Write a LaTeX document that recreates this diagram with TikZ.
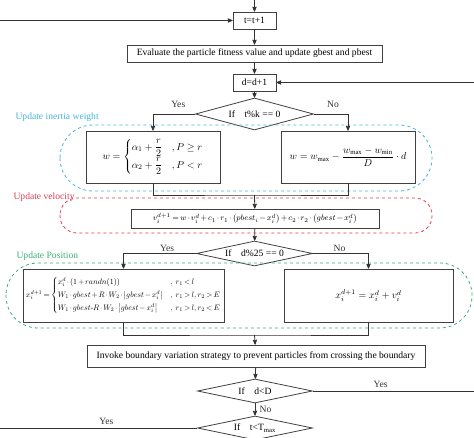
\documentclass[tikz,border=0pt]{standalone}
\usepackage{amsmath}
\usepackage{amssymb}
\usepackage{graphicx}
\usepackage{fontspec}
\setmainfont{Liberation Serif}
\usetikzlibrary{shapes.geometric, arrows}
\definecolor{inertiacol}{RGB}{70,180,220}
\definecolor{velcol}{RGB}{225,60,80}
\definecolor{poscol}{RGB}{60,175,120}
\tikzset{
>=stealth', % bold arrow heads
every node/.style={font=\fontsize{9.6}{11}\selectfont}, % text size of the flowchart
process/.style={draw, thick, draw=black!75, inner sep=1pt}, % rectangular boxes
decision/.style={diamond, draw, thick, draw=black!75, inner sep=0pt}, % if boxes
region/.style={dashed, thick, rounded corners=#1}, % dashed groups
flow/.style={->, thick, black!80}, % connectors
}

\begin{document}
\begin{tikzpicture}[x=1pt, y=-1pt]
        \useasboundingbox (0,0) rectangle (474,438);

        % main column
        \node[process, minimum width=43pt, minimum height=17pt] (tt) at (254.5,20.5) {t=t+1};
        \node[process, minimum width=255pt, minimum height=17pt] (eval) at (254.5,53.5) {Evaluate the particle fitness value and update gbest and pbest};
        \node[process, minimum width=43pt, minimum height=17pt] (dd) at (254.5,82.5) {d=d+1};
        \node[decision, aspect=3.7, minimum width=118pt, minimum height=32pt] (ifk) at (254.5,114) {If\quad t\%k == 0};

        % inertia weight
        \draw[region=33pt, inertiacol] (60,125) rectangle (432,191);
        \node[inertiacol, anchor=west] (lbinertia) at (12,117) {Update inertia weight};
        \node[process, minimum width=134pt, minimum height=52pt] (wl) at (153,157) {$w=\begin{cases}\alpha_1+\dfrac{r}{2} & ,P\ge r\\[2pt] \alpha_2+\dfrac{r}{2} & ,P<r\end{cases}$};
        \node[process, minimum width=134pt, minimum height=52pt] (wr) at (348,157) {$w=w_{\max}-\dfrac{w_{\max}-w_{\min}}{D}\cdot d$};
        \coordinate (mw) at (254.5,195);

        % velocity
        \draw[region=17pt, velcol] (60,198) rectangle (432,233);
        \node[velcol, anchor=west] (lbvel) at (10,197) {Update velocity};
        \node[process, minimum width=248pt, minimum height=19pt] (vel) at (255,218.5) {\fontsize{8}{9}\selectfont\medmuskip=2mu\thickmuskip=3mu$v_i^{d+1}=w\cdot v_i^d+c_1\cdot r_1\cdot\left(pbest_i-x_i^d\right)+c_2\cdot r_2\cdot\left(gbest-x_i^d\right)$};
        \node[decision, aspect=4.6, minimum width=116pt, minimum height=25pt] (ifd) at (254.5,253.5) {If\quad d\%25 == 0};

        % position
        \draw[region=32pt, poscol] (6,263) rectangle (472,328);
        \node[poscol, anchor=west] (lbpos) at (13,256) {Update Position};
        \node[process, minimum width=201pt, minimum height=53pt] (pl) at (123.5,295.5) {\resizebox{195pt}{!}{\medmuskip=2mu\thickmuskip=3mu$x_i^{d+1}=\begin{cases} x_i^d\cdot(1+randn(1)) & ,\ r_1<l\\[3pt] W_1\cdot gbest+R\cdot W_2\cdot\left|gbest-x_i^d\right| & ,\ r_1>l,r_2>E\\[3pt] W_1\cdot gbest\text{-}R\cdot W_2\cdot\left|gbest-x_i^d\right| & ,\ r_1>l,r_2<E\end{cases}$}};
        \node[process, minimum width=169pt, minimum height=53pt] (pr) at (368.5,295.5) {$x_i^{d+1}=x_i^d+v_i^d$};
        \coordinate (mp) at (254.5,335);

        % boundary and loops
        \node[process, minimum width=338pt, minimum height=22pt] (bound) at (256,356) {Invoke boundary variation strategy to prevent particles from crossing the boundary};
        \node[decision, aspect=4.8, minimum width=115pt, minimum height=24pt] (ifdd) at (255,391) {If\quad d<D};
        \node[decision, aspect=4.8, minimum width=115pt, minimum height=24pt] (ift) at (255,428) {If\quad t<T$_{\max}$};
        \coordinate (intop) at (254.5,0);
        \coordinate (inleft) at (0,20.5);
        \coordinate (inright) at (474,82.5);
        \coordinate (outright) at (474,391);
        \coordinate (outleft) at (0,428);

        \draw[flow] (intop) -- (tt);
        \draw[flow] (inleft) -- (tt);
        \draw[flow] (tt) -- (eval);
        \draw[flow] (eval) -- (dd);
        \draw[flow] (inright) -- (dd);
        \draw[flow] (dd) -- (ifk);
        \draw[flow] (ifk.west) -| node[pos=0.2, above=3pt]{Yes} (wl.north);
        \draw[flow] (ifk.east) -| node[pos=0.28, above=3pt]{No} (wr.north);
        \draw[thick, black!80] (wl.south) |- (mw) -| (wr.south);
        \draw[flow] (mw) -- (vel);
        \draw[flow] (vel) -- (ifd);
        \draw[flow] (ifd.west) -| node[pos=0.2, above=-2pt]{Yes} (pl.north);
        \draw[flow] (ifd.east) -| node[pos=0.24, above=-2pt]{No} (pr.north);
        \draw[thick, black!80] (pl.south) |- (mp) -| (pr.south);
        \draw[flow] (mp) -- (bound);
        \draw[flow] (bound) -- (ifdd);
        \draw[thick, black!80] (ifdd.east) -- node[pos=0.42, above=0pt]{Yes} (outright);
        \draw[flow] (ifdd) -- node[right=1pt]{No} (ift);
        \draw[thick, black!80] (ift.west) -- node[pos=0.46, above=0pt]{Yes} (outleft);
      \end{tikzpicture}
\end{document}
